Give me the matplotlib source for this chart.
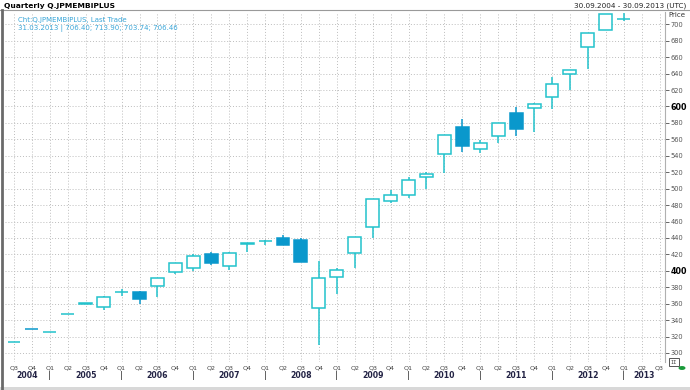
import matplotlib
matplotlib.use("Agg")
import matplotlib.pyplot as plt
import matplotlib.transforms as mtransforms
from matplotlib.lines import Line2D
from matplotlib.patches import Rectangle, Circle

# --- DATA (quarterly OHLC) ---
start_quarter = 3
start_year = 2004
opens  = [313.0, 329.5, 325.7, 347.0, 360.0, 355.5, 374.0, 374.0, 381.0, 399.0,
          404.0, 421.0, 406.0, 433.0, 436.0, 440.0, 437.0, 355.0, 392.5, 422.0,
          453.6, 484.5, 492.0, 514.5, 542.0, 575.0, 548.5, 563.6, 592.0, 598.0,
          612.0, 639.6, 673.0, 693.0, 706.40]
highs  = [313.5, 329.5, 326.0, 347.5, 360.5, 369.0, 378.0, 375.0, 391.0, 410.0,
          420.0, 423.0, 422.5, 434.0, 437.0, 444.0, 440.0, 412.0, 403.0, 441.5,
          487.0, 498.0, 514.0, 520.0, 565.0, 585.0, 559.0, 580.0, 599.0, 604.0,
          636.0, 644.5, 689.0, 712.0, 713.90]
lows   = [313.0, 329.0, 325.5, 347.0, 360.0, 352.5, 369.0, 359.0, 368.0, 396.0,
          400.0, 407.0, 401.0, 423.0, 431.0, 431.0, 411.0, 310.0, 371.5, 403.0,
          439.5, 483.0, 489.0, 500.0, 519.0, 545.0, 543.5, 555.6, 564.5, 568.5,
          597.0, 620.0, 646.0, 693.0, 703.74]
closes = [313.5, 329.0, 326.0, 347.5, 360.5, 368.5, 374.5, 366.0, 391.0, 409.0,
          418.0, 410.0, 422.0, 433.5, 436.5, 431.0, 411.0, 391.0, 401.0, 441.5,
          487.0, 492.5, 511.0, 518.0, 565.0, 552.0, 555.5, 580.0, 572.6, 603.0,
          627.0, 644.5, 689.0, 712.0, 706.46]
n_slots = 37          # Q3 2004 .. Q3 2013 on the axis
y_ticks = list(range(300, 701, 20))
bold_ticks = [400, 600]

UP = "#22c2cc"
DOWN = "#0a98cc"

W, H = 690, 390
fig = plt.figure(figsize=(W / 100, H / 100), dpi=100)
fig.patch.set_facecolor("white")

# axes placed in pixel terms
left, right, top, bottom = 5, 665, 12, 362
ax = fig.add_axes([left / W, 1 - bottom / H, (right - left) / W, (bottom - top) / H])
ax.set_xlim(-0.5, 36.3)
ax.set_ylim(289, 715)

for s in ["left", "top", "bottom"]:
    ax.spines[s].set_visible(False)
ax.spines["right"].set_color("#b0b0b0")
ax.spines["right"].set_linewidth(0.8)

# grid
for i in range(n_slots):
    ax.axvline(i, color="#bdbdbd", lw=0.7, ls=(0, (1, 2)), zorder=0)
for v in y_ticks:
    ax.axhline(v, color="#bdbdbd", lw=0.7, ls=(0, (1, 2)), zorder=0)

# candles
bw = 0.72
for i, (o, h, l, c) in enumerate(zip(opens, highs, lows, closes)):
    col = DOWN if c < o else UP
    lo, hi = min(o, c), max(o, c)
    ax.vlines(i, l, h, color=col, lw=1.1, zorder=2)
    face = DOWN if c < o else "white"
    ax.add_patch(Rectangle((i - bw / 2, lo), bw, hi - lo, facecolor=face,
                           edgecolor=col, lw=1.1, zorder=3))

# y axis on the right
ax.yaxis.tick_right()
ax.set_yticks(y_ticks)
ax.set_yticklabels([str(v) for v in y_ticks])
ax.tick_params(axis="y", length=3, width=0.7, color="#666666", pad=1,
               labelsize=4.8, labelcolor="#555555")
for lab, v in zip(ax.get_yticklabels(), y_ticks):
    if v in bold_ticks:
        lab.set_fontweight("bold")
        lab.set_color("black")
        lab.set_fontsize(5.8)

# x axis: quarters + years
ax.set_xticks(range(n_slots))
qlabels = []
for i in range(n_slots):
    q = (start_quarter - 1 + i) % 4 + 1
    qlabels.append(f"Q{q}")
ax.set_xticklabels(qlabels)
ax.tick_params(axis="x", length=0, pad=2.5, labelsize=4.6, labelcolor="#444444")

trans = mtransforms.blended_transform_factory(ax.transData, ax.transAxes)
years = list(range(start_year, start_year + 10))
year_starts = [-0.5] + [i for i in range(n_slots) if (start_quarter - 1 + i) % 4 == 0]
year_ends = year_starts[1:] + [36.3]
for y, a, b in zip(years, year_starts, year_ends):
    ax.text((a + b) / 2, -0.04, str(y), transform=trans, ha="center", va="center",
            fontsize=5.6, fontweight="bold", color="#222244")
    if a > 0:
        ax.text(a, -0.04, "|", transform=trans, ha="center", va="center",
                fontsize=6, color="#333333")

# header texts
fig.text(4 / W, 1 - 6 / H, "Quarterly Q.JPMEMBIPLUS", fontsize=5.4, fontweight="bold",
         ha="left", va="center", color="black")
fig.text(686 / W, 1 - 6 / H, "30.09.2004 - 30.09.2013 (UTC)", fontsize=5.2,
         ha="right", va="center", color="#222222")
fig.text(668 / W, 1 - 15 / H, "Price", fontsize=5.0, ha="left", va="center", color="#333333")
fig.text(18 / W, 1 - 20 / H, "Cht:Q.JPMEMBIPLUS, Last Trade", fontsize=5.0,
         ha="left", va="center", color="#3aa6d8")
fig.text(18 / W, 1 - 28 / H, "31.03.2013 | 706.40; 713.90; 703.74; 706.46", fontsize=5.0,
         ha="left", va="center", color="#3aa6d8")

# frame decorations
fig.add_artist(Line2D([0, 1], [1 - 10 / H, 1 - 10 / H], color="#9a9a9a", lw=0.8))
fig.add_artist(Line2D([1.5 / W, 1.5 / W], [0, 1 - 10 / H], color="#6a6a6a", lw=2.0))
fig.add_artist(Rectangle((0, 0), 1, 3 / H, facecolor="#d8d8d8", edgecolor="none"))
fig.add_artist(Rectangle((669 / W, 1 - 366 / H), 10 / W, 8 / H, facecolor="white",
                         edgecolor="#555555", lw=0.7))
fig.text(674 / W, 1 - 362 / H, "1Σ", fontsize=3.5, ha="center", va="center", color="#333333")
fig.add_artist(Circle((682 / W, 1 - 368 / H), 3.5 / W, facecolor="#1a9a3a",
                      edgecolor="none"))

fig.savefig("out.png", dpi=100)
